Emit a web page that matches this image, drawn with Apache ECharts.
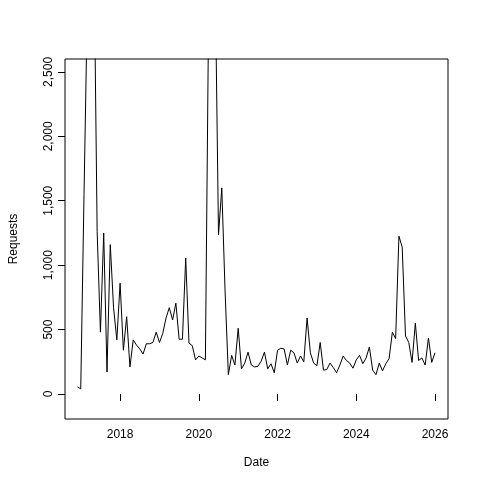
<!DOCTYPE html>
<html><head><meta charset="utf-8">
<script src="https://cdn.jsdelivr.net/npm/echarts@6/dist/echarts.min.js"></script>
<style>html,body{margin:0;background:#fff}#c{width:480px;height:480px}</style>
</head><body><div id="c"></div>
<script>
const startYear = 2016, startMonth = 12;
const requests = [55,40,1550,3000,4500,3500,1260,480,1250,170,1160,670,420,
860,340,600,210,420,380,350,310,390,390,400,480,
400,470,590,670,575,705,425,425,1055,395,375,265,
295,280,265,3000,4000,3200,1235,1600,800,150,300,225,
510,195,240,325,225,210,215,255,325,195,235,165,
340,355,350,225,340,320,240,295,250,590,320,240,
220,400,185,190,240,205,165,225,295,260,240,200,
265,300,235,280,365,185,150,240,180,235,275,480,
430,1225,1140,450,400,245,550,260,280,225,435,245,
320];
const yTicks = [0,500,1000,1500,2000,2500];
const xTicks = [2018,2020,2022,2024,2026];

const data = requests.map((v,i)=>[startYear + (startMonth - 1 + i)/12, v]);
const font = {fontFamily:'Liberation Sans, Arial, sans-serif', fontSize:12, color:'#000'};
const chart = echarts.init(document.getElementById('c'));
chart.setOption({
  animation:false,
  grid:{left:60,right:32,top:59,bottom:61,show:true,borderColor:'#000',borderWidth:1,backgroundColor:'transparent'},
  xAxis:{type:'value',min:2016.6,max:2026.33,
    name:'Date',nameLocation:'middle',nameGap:38,nameTextStyle:font,
    axisLine:{show:false},splitLine:{show:false},
    axisTick:{show:true,customValues:xTicks,length:7,lineStyle:{color:'#000'}},
    axisLabel:Object.assign({customValues:xTicks,formatter:v=>String(Math.round(v)),margin:10},font)},
  yAxis:{type:'value',min:-194,max:2600,
    name:'Requests',nameLocation:'middle',nameGap:45,nameTextStyle:font,
    axisLine:{show:false},splitLine:{show:false},
    axisTick:{show:true,customValues:yTicks,length:7,lineStyle:{color:'#000'}},
    axisLabel:Object.assign({customValues:yTicks,rotate:90,margin:10,verticalAlign:'bottom'},font)},
  series:[{type:'line',data:data,symbol:'none',lineStyle:{color:'#000',width:1},clip:true}]
});
</script></body></html>
